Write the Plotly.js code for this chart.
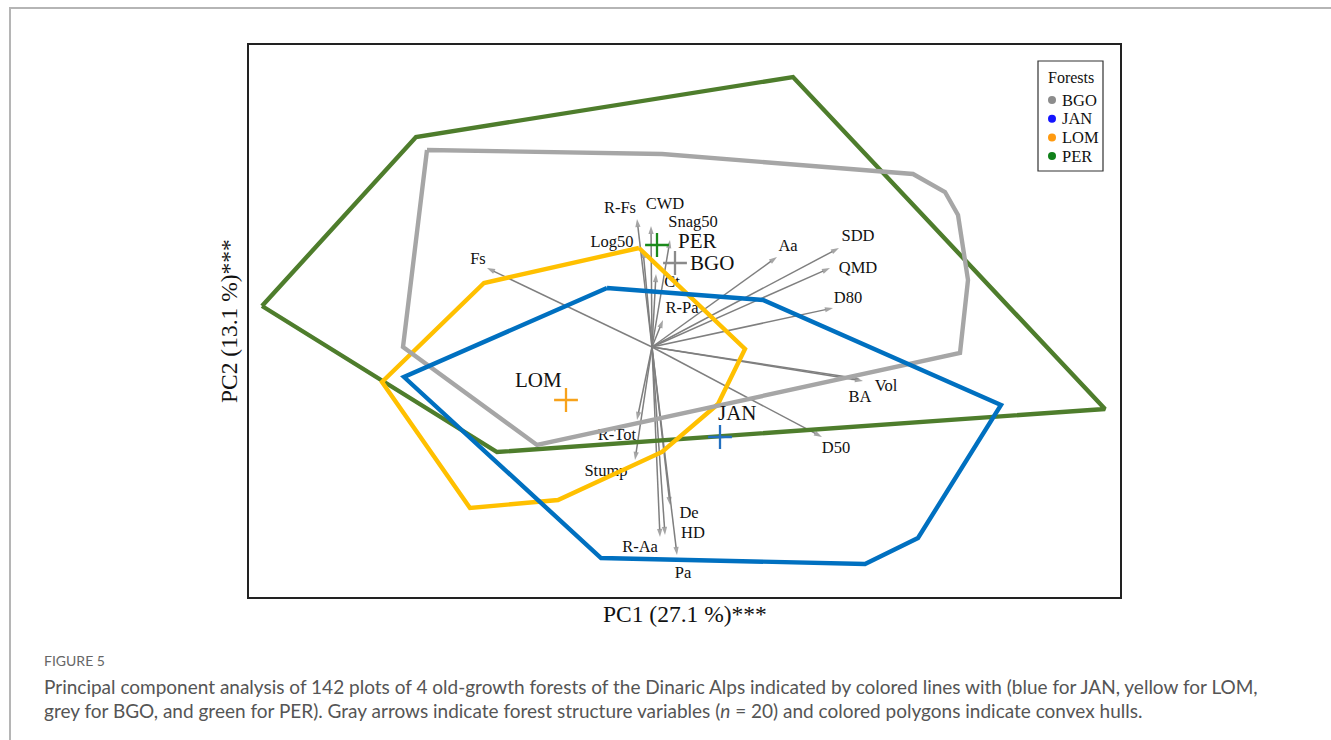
<!DOCTYPE html>
<html>
<head>
<meta charset="utf-8">
<script src="https://cdn.plot.ly/plotly-3.0.1.min.js"></script>
<style>
html,body{margin:0;padding:0;background:#fff;}
#chart{width:1331px;height:740px;}
</style>
</head>
<body>
<div id="chart"></div>
<script>
// ---- Variable loadings (arrow tips, PC1/PC2 units) ----
const varNames = ['R-Fs','CWD','Snag50','Log50','Ct','R-Pa','Fs','Aa','SDD','QMD','D80','Vol','BA','D50','R-Tot','Stump','R-Aa','HD','De','Pa'];
const loadX = [-0.15,-0.01,0.18,-0.09,0.04,0.11,-1.65,1.25,1.87,1.78,1.81,2.11,2.08,1.70,-0.15,-0.17,0.08,0.13,0.18,0.25];
const loadY = [1.28,1.21,1.07,0.97,0.73,0.27,0.79,0.90,0.99,0.79,0.39,-0.34,-0.32,-0.90,-0.73,-1.13,-1.90,-1.88,-1.58,-2.08];
const labelX = [-0.32,0.13,0.41,-0.40,0.20,0.30,-1.74,1.36,2.06,2.06,1.96,2.34,2.08,1.84,-0.35,-0.46,-0.12,0.41,0.37,0.31];
const labelY = [1.38,1.42,1.24,1.04,0.64,0.38,0.87,1.00,1.10,0.78,0.48,-0.40,-0.51,-1.02,-0.89,-1.25,-2.01,-1.87,-1.67,-2.27];

// ---- Forests ----
const forests = ['BGO','JAN','LOM','PER'];
const centroidX = [0.23,0.68,-0.86,0.05];
const centroidY = [0.84,-0.90,-0.53,1.02];
const centroidLabelX = [0.38,0.66,-1.37,0.26];
const centroidLabelY = [0.82,-0.68,-0.35,1.04];

// ---- Convex hulls ----
const hullPERx = [-3.90,-2.36,1.41,4.53,-1.55,-3.90];
const hullPERy = [0.41,2.10,2.70,-0.62,-1.05,0.41];
const hullBGOx = [-2.25,0.10,2.61,2.93,3.06,3.16,3.08,-1.15,-2.49,-2.25];
const hullBGOy = [1.97,1.93,1.73,1.55,1.32,0.67,-0.06,-0.98,0.00,1.97];
const hullLOMx = [-0.13,0.93,0.66,0.10,-0.94,-1.82,-2.70,-1.68,-0.13];
const hullLOMy = [0.99,-0.02,-0.57,-1.05,-1.53,-1.61,-0.35,0.64,0.99];
const hullJANx = [-0.45,1.11,3.49,2.66,2.13,-0.51,-2.48,-0.45];
const hullJANy = [0.59,0.47,-0.58,-1.91,-2.17,-2.11,-0.30,0.59];

const hulls = {PER:[hullPERx,hullPERy], LOM:[hullLOMx,hullLOMy], BGO:[hullBGOx,hullBGOy], JAN:[hullJANx,hullJANy]};
const hullOrder = ['PER','LOM','BGO','JAN'];
const hullColor = {PER:'#4e7d2c', LOM:'#ffc000', BGO:'#a6a6a6', JAN:'#0070c0'};
const crossColor = {PER:'#1b8a1b', LOM:'#f7a21b', BGO:'#8a8a8a', JAN:'#2270c0'};
const legendDot = {BGO:'#8c8c8c', JAN:'#1414ff', LOM:'#ff9a10', PER:'#10801a'};

const serif = 'Liberation Serif, Times New Roman, serif';
const traces = [];

// arrows
for (let i = 0; i < varNames.length; i++) {
  traces.push({
    type:'scatter', mode:'lines+markers',
    x:[0, loadX[i]], y:[0, loadY[i]],
    line:{color:'#7f7f7f', width:1.5},
    marker:{symbol:'arrow', angleref:'previous', size:[0,8.5], color:'#7f7f7f', line:{width:0}},
    hoverinfo:'skip', showlegend:false
  });
}
// arrow labels
traces.push({
  type:'scatter', mode:'text', x:labelX, y:labelY, text:varNames,
  textposition:'middle center', textfont:{family:serif, size:16.5, color:'#111'},
  hoverinfo:'skip', showlegend:false, cliponaxis:false
});
// hulls
hullOrder.forEach(f => {
  traces.push({
    type:'scatter', mode:'lines', x:hulls[f][0], y:hulls[f][1],
    line:{color:hullColor[f], width:4.4}, hoverinfo:'skip', showlegend:false
  });
});
// centroids
forests.forEach((f,i) => {
  traces.push({
    type:'scatter', mode:'markers', x:[centroidX[i]], y:[centroidY[i]],
    marker:{symbol:'cross-thin', size:17, line:{color:crossColor[f], width:2.3}},
    hoverinfo:'skip', showlegend:false
  });
});
traces.push({
  type:'scatter', mode:'text', x:centroidLabelX, y:centroidLabelY, text:forests,
  textposition:'middle right', textfont:{family:serif, size:21, color:'#111'},
  hoverinfo:'skip', showlegend:false, cliponaxis:false
});

// paper conversion helpers (plot area: x 249..1120, y 45..597)
const L = 249, R = 1120, T = 45, B = 597;
const px = v => (v - L) / (R - L);
const py = v => (B - v) / (B - T);

const shapes = [
  {type:'path', xref:'paper', yref:'paper',
   path:`M ${px(10)} ${py(760)} L ${px(10)} ${py(8)} L ${px(1345)} ${py(8)}`,
   line:{color:'#b5b5b5', width:2}},
  {type:'rect', xref:'paper', yref:'paper', x0:px(1038), x1:px(1103), y0:py(171), y1:py(61),
   line:{color:'#333', width:1.2}, fillcolor:'#fff'}
];
const annotations = [
  {xref:'paper', yref:'paper', x:px(1071), y:py(77), text:'Forests', showarrow:false,
   font:{family:serif, size:16, color:'#111'}, xanchor:'center', yanchor:'middle'},
  {xref:'paper', yref:'paper', x:px(685), y:py(614), text:'PC1 (27.1 %)***', showarrow:false,
   font:{family:serif, size:23.5, color:'#111'}, xanchor:'center', yanchor:'middle'},
  {xref:'paper', yref:'paper', x:px(229), y:py(321), text:'PC2 (13.1 %)***', showarrow:false, textangle:-90,
   font:{family:serif, size:23.5, color:'#111'}, xanchor:'center', yanchor:'middle'},
  {xref:'paper', yref:'paper', x:px(42), y:py(660), text:'FIGURE 5', showarrow:false,
   font:{family:'Lato, sans-serif', size:14, color:'#666'}, xanchor:'left', yanchor:'middle'},
  {xref:'paper', yref:'paper', x:px(42), y:py(686), showarrow:false,
   text:'Principal component analysis of 142 plots of 4 old-growth forests of the Dinaric Alps indicated by colored lines with (blue for JAN, yellow for LOM,',
   font:{family:'Lato, sans-serif', size:19, color:'#555'}, xanchor:'left', yanchor:'middle'},
  {xref:'paper', yref:'paper', x:px(42), y:py(710), showarrow:false,
   text:'grey for BGO, and green for PER). Gray arrows indicate forest structure variables (<i>n</i> = 20) and colored polygons indicate convex hulls.',
   font:{family:'Lato, sans-serif', size:19, color:'#555'}, xanchor:'left', yanchor:'middle'}
];
forests.forEach((f,i) => {
  const yy = 100 + i * 18.7;
  shapes.push({type:'circle', xref:'paper', yref:'paper', xsizemode:'pixel', ysizemode:'pixel',
    xanchor:px(1052), yanchor:py(yy), x0:-4, x1:4, y0:-4, y1:4,
    fillcolor:legendDot[f], line:{width:0}});
  annotations.push({xref:'paper', yref:'paper', x:px(1060), y:py(yy), text:f, showarrow:false,
    font:{family:serif, size:16.5, color:'#111'}, xanchor:'left', yanchor:'middle'});
});

const axisBase = {showgrid:false, zeroline:false, showticklabels:false, ticks:'',
  showline:true, mirror:true, linecolor:'#222', linewidth:2, fixedrange:true};

const layout = {
  width:1331, height:740,
  margin:{l:L, r:1331-R, t:T, b:740-B},
  paper_bgcolor:'#fff', plot_bgcolor:'#fff',
  xaxis:Object.assign({range:[-4.03,4.68]}, axisBase),
  yaxis:Object.assign({range:[-2.50,3.02]}, axisBase),
  showlegend:false,
  shapes:shapes, annotations:annotations
};

Plotly.newPlot('chart', traces, layout, {displayModeBar:false, staticPlot:true});
</script>
</body>
</html>
